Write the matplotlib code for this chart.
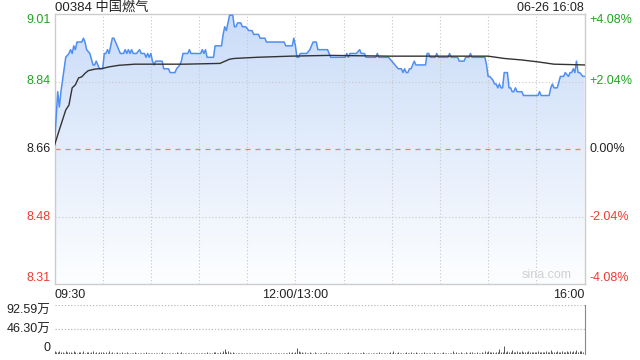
import matplotlib
matplotlib.use("Agg")
import numpy as np
from matplotlib import pyplot as plt
from matplotlib.colors import LinearSegmentedColormap
from matplotlib.transforms import blended_transform_factory

plt.rcParams['font.family'] = ['Liberation Sans', 'Noto Sans CJK SC', 'DejaVu Sans']

title = "00384 中国燃气"
stamp = "06-26 16:08"
prev_close = 8.66
pct_levels = [-4.08, -2.04, 0.0, 2.04, 4.08]
x_label_pos = [0, 150, 330]
x_labels = ["09:30", "12:00/13:00", "16:00"]
vol_ticks = [0, 46.30, 92.59]
vol_labels = ["0", "46.30万", "92.59万"]

# minutes since 09:30 (lunch break removed) and last price
price_min = [0, 2, 3, 4, 5, 6, 7, 9, 10, 11, 12, 13, 14, 15, 17, 18, 19, 20, 22, 24,
             25, 26, 27, 28, 30, 31, 32, 33, 34, 35, 36, 37, 39, 41, 43, 44, 45, 46, 47, 48,
             49, 51, 53, 54, 56, 57, 58, 59, 60, 61, 62, 63, 64, 67, 68, 70, 71, 72, 75, 76,
             78, 79, 80, 82, 83, 84, 85, 86, 91, 92, 93, 94, 95, 98, 99, 100, 104, 105, 106, 107,
             108, 109, 111, 112, 113, 114, 116, 117, 119, 121, 123, 124, 127, 128, 131, 132, 143, 144, 148, 149,
             150, 151, 152, 153, 157, 159, 161, 163, 164, 167, 170, 171, 172, 181, 182, 183, 184, 188, 190, 191,
             193, 194, 200, 201, 202, 208, 210, 212, 214, 216, 217, 218, 219, 220, 221, 222, 223, 224, 225, 231,
             232, 233, 234, 237, 238, 239, 245, 246, 247, 251, 252, 255, 256, 258, 259, 260, 268, 269, 270, 271,
             273, 274, 275, 276, 277, 278, 279, 280, 282, 283, 284, 285, 286, 287, 288, 291, 292, 301, 302, 303,
             308, 309, 310, 311, 313, 315, 316, 317, 318, 320, 321, 322, 323, 324, 325, 326, 327, 329, 330]
price_val = [8.67, 8.81, 8.77, 8.81, 8.84, 8.87, 8.90, 8.91, 8.92, 8.91, 8.93, 8.92, 8.94, 8.94, 8.94, 8.95, 8.94, 8.92, 8.91, 8.88,
             8.88, 8.89, 8.88, 8.87, 8.87, 8.91, 8.91, 8.92, 8.91, 8.93, 8.95, 8.95, 8.93, 8.91, 8.91, 8.92, 8.91, 8.92, 8.91, 8.92,
             8.91, 8.91, 8.92, 8.91, 8.91, 8.90, 8.91, 8.90, 8.91, 8.89, 8.88, 8.89, 8.89, 8.89, 8.87, 8.87, 8.87, 8.86, 8.86, 8.87,
             8.88, 8.89, 8.91, 8.91, 8.91, 8.92, 8.91, 8.91, 8.91, 8.92, 8.91, 8.92, 8.90, 8.90, 8.90, 8.93, 8.93, 8.96, 8.98, 8.97,
             8.99, 9.01, 9.01, 8.98, 8.98, 8.99, 8.99, 8.98, 8.98, 8.97, 8.97, 8.96, 8.96, 8.95, 8.95, 8.94, 8.94, 8.93, 8.93, 8.95,
             8.93, 8.90, 8.90, 8.91, 8.91, 8.92, 8.94, 8.94, 8.92, 8.92, 8.92, 8.91, 8.90, 8.90, 8.91, 8.90, 8.91, 8.91, 8.92, 8.91,
             8.91, 8.90, 8.90, 8.91, 8.90, 8.90, 8.89, 8.88, 8.87, 8.87, 8.86, 8.87, 8.86, 8.86, 8.87, 8.87, 8.88, 8.89, 8.88, 8.88,
             8.91, 8.91, 8.90, 8.90, 8.91, 8.90, 8.90, 8.91, 8.90, 8.90, 8.89, 8.89, 8.90, 8.90, 8.91, 8.90, 8.90, 8.88, 8.85, 8.85,
             8.84, 8.83, 8.83, 8.82, 8.83, 8.82, 8.82, 8.86, 8.86, 8.82, 8.82, 8.81, 8.81, 8.82, 8.81, 8.81, 8.80, 8.80, 8.81, 8.80,
             8.80, 8.82, 8.83, 8.82, 8.82, 8.85, 8.85, 8.85, 8.86, 8.85, 8.86, 8.86, 8.87, 8.86, 8.89, 8.86, 8.86, 8.85, 8.85]

# average price line
avg_min = [0, 3, 5, 7, 9, 11, 13, 15, 17, 19, 21, 25, 30, 34, 40, 50, 61, 81, 103, 109,
           112, 126, 147, 171, 209, 249, 270, 280, 291, 301, 311, 330]
avg_val = [8.67, 8.710, 8.736, 8.762, 8.775, 8.820, 8.828, 8.846, 8.849, 8.858, 8.865, 8.869, 8.871, 8.875, 8.879, 8.882,
           8.882, 8.882, 8.884, 8.895, 8.897, 8.900, 8.903, 8.905, 8.903, 8.903, 8.903, 8.897, 8.893, 8.888, 8.882, 8.880]

# volume per minute, in 万 shares
volume_wan = [6, 3, 4, 5, 3, 4, 2, 5, 3, 4, 3, 2, 5, 3, 2, 4, 3, 2, 5, 2, 3, 4, 2, 3, 5, 2, 3, 2, 4, 3,
              4, 2, 3, 2, 5, 2, 3, 2, 2, 3, 2, 2, 3, 2, 2, 3, 2, 1, 2, 2, 3, 2, 1, 2, 2, 1, 2, 3, 2, 2,
              2, 1, 2, 2, 1, 2, 2, 3, 1, 2, 2, 1, 2, 2, 1, 2, 3, 2, 2, 4, 2, 2, 1, 2, 2, 1, 2, 2, 1, 2,
              2, 1, 2, 2, 2, 3, 2, 1, 2, 4, 3, 2, 2, 3, 2, 6, 10, 3, 5, 4, 2, 3, 2, 2, 1, 2, 2, 1, 2, 2,
              1, 2, 2, 1, 2, 2, 1, 2, 2, 1, 2, 1, 2, 2, 1, 2, 2, 1, 2, 2, 1, 2, 2, 1, 2, 2, 3, 2, 3, 2,
              4, 12, 5, 3, 4, 2, 3, 2, 2, 3, 2, 2, 3, 2, 2, 1, 2, 2, 1, 3, 2, 2, 1, 2, 2, 1, 2, 2, 1, 2,
              2, 1, 2, 3, 2, 2, 1, 2, 2, 1, 2, 2, 3, 2, 1, 2, 2, 1, 2, 2, 1, 2, 3, 2, 2, 1, 2, 2, 1, 3,
              2, 5, 2, 2, 3, 2, 2, 1, 2, 3, 2, 2, 4, 2, 2, 3, 2, 1, 2, 2, 3, 2, 2, 1, 2, 2, 3, 2, 2, 1,
              2, 2, 3, 2, 2, 1, 2, 2, 5, 2, 3, 2, 2, 3, 2, 2, 3, 2, 2, 4, 3, 2, 2, 3, 2, 2, 3, 2, 6, 3,
              5, 3, 4, 3, 2, 4, 3, 10, 3, 4, 15, 3, 6, 4, 3, 7, 4, 3, 5, 3, 4, 6, 3, 4, 3, 5, 3, 4, 3, 4,
              3, 5, 3, 4, 3, 4, 5, 3, 4, 7, 3, 4, 3, 5, 4, 3, 6, 3, 4, 5, 4, 6, 3, 5, 4, 8, 4, 5, 6, 4,
              7]

GREEN = '#1fa51f'
RED = '#f03a32'
LINE = '#4f8ef2'
GRID = '#c8c8c8'

fig = plt.figure(figsize=(6.4, 3.6), dpi=100)
ax = fig.add_axes([54.5 / 640, 76 / 360, 530 / 640, 270 / 360])
vax = fig.add_axes([54.5 / 640, 6 / 360, 530 / 640, 49 / 360])

levels = [prev_close * (1 + p / 100) for p in pct_levels]
ymin, ymax = levels[0], levels[-1]
ax.set_xlim(0, 330)
ax.set_ylim(ymin, ymax)

# gradient fill under the price line
grad = np.linspace(1, 0, 256).reshape(-1, 1)
cmap = LinearSegmentedColormap.from_list('fill', ['#fdfeff', '#cadcf8'])
poly = ax.fill_between(price_min, price_val, ymin, color='none', lw=0)
img = ax.imshow(grad, extent=[0, 330, ymin, ymax], aspect='auto', cmap=cmap,
                origin='upper', zorder=1)
img.set_clip_path(poly.get_paths()[0], transform=ax.transData)

ax.plot(price_min, price_val, color=LINE, lw=1.1, zorder=3)
ax.plot(avg_min, avg_val, color='#333333', lw=1.0, zorder=4)

# grid
for x in range(30, 330, 30):
    ax.axvline(x, color=GRID, lw=0.8, ls=(0, (1, 2)), zorder=2)
for lv in levels[1:-1]:
    if lv == prev_close:
        ax.axhline(lv, color='#e8845f', lw=0.9, ls=(0, (4, 4)), zorder=2)
    else:
        ax.axhline(lv, color=GRID, lw=0.8, ls=(0, (1, 2)), zorder=2)

ax.set_xticks([])
ax.set_yticks([])
for s in ax.spines.values():
    s.set_color('#cccccc')
    s.set_linewidth(1)

tr = blended_transform_factory(ax.transAxes, ax.transData)
for i, (p, lv) in enumerate(zip(pct_levels, levels)):
    col = GREEN if p > 0 else (RED if p < 0 else '#222222')
    va = 'bottom' if i == 0 else ('top' if i == len(levels) - 1 else 'center')
    ax.text(-0.008, lv, f"{lv:.2f}", transform=tr, ha='right', va=va,
            color=col, fontsize=9)
    txt = "0.00%" if p == 0 else f"{p:+.2f}%"
    ax.text(1.01, lv, txt, transform=tr, ha='left', va=va, color=col, fontsize=9)

for xp, lab in zip(x_label_pos, x_labels):
    ha = 'left' if xp == 0 else ('right' if xp == 330 else 'center')
    ax.text(xp, -0.018, lab, transform=blended_transform_factory(ax.transData, ax.transAxes),
            ha=ha, va='top', fontsize=9, color='#222222')

fig.text(55 / 640, 1 - 8 / 360, title, ha='left', va='center',
         fontsize=9.5, color='#222222')
fig.text(584 / 640, 1 - 8 / 360, stamp, ha='right', va='center',
         fontsize=9, color='#222222')
ax.text(0.975, 0.012, "sina.com", transform=ax.transAxes, ha='right', va='bottom',
        fontsize=9, color='#d0d0d0')

# volume panel
vax.set_xlim(0, 330)
vax.set_ylim(0, vol_ticks[-1])
vax.vlines(range(len(volume_wan)), 0, volume_wan, color='#555555', lw=0.7)
for t in vol_ticks[1:]:
    vax.axhline(t, color='#bbbbbb', lw=0.9, ls=(0, (1, 1.5)))
vax.set_xticks([])
vax.set_yticks([])
for k in ['top', 'left', 'bottom']:
    vax.spines[k].set_visible(False)
vax.spines['right'].set_color('#888888')
vtr = blended_transform_factory(vax.transAxes, vax.transData)
for t, lab in zip(vol_ticks, vol_labels):
    va = 'bottom' if t == 0 else ('top' if t == vol_ticks[-1] else 'center')
    vax.text(-0.008, t, lab, transform=vtr, ha='right', va=va, fontsize=9, color='#222222')

fig.savefig("out.png", dpi=100)
